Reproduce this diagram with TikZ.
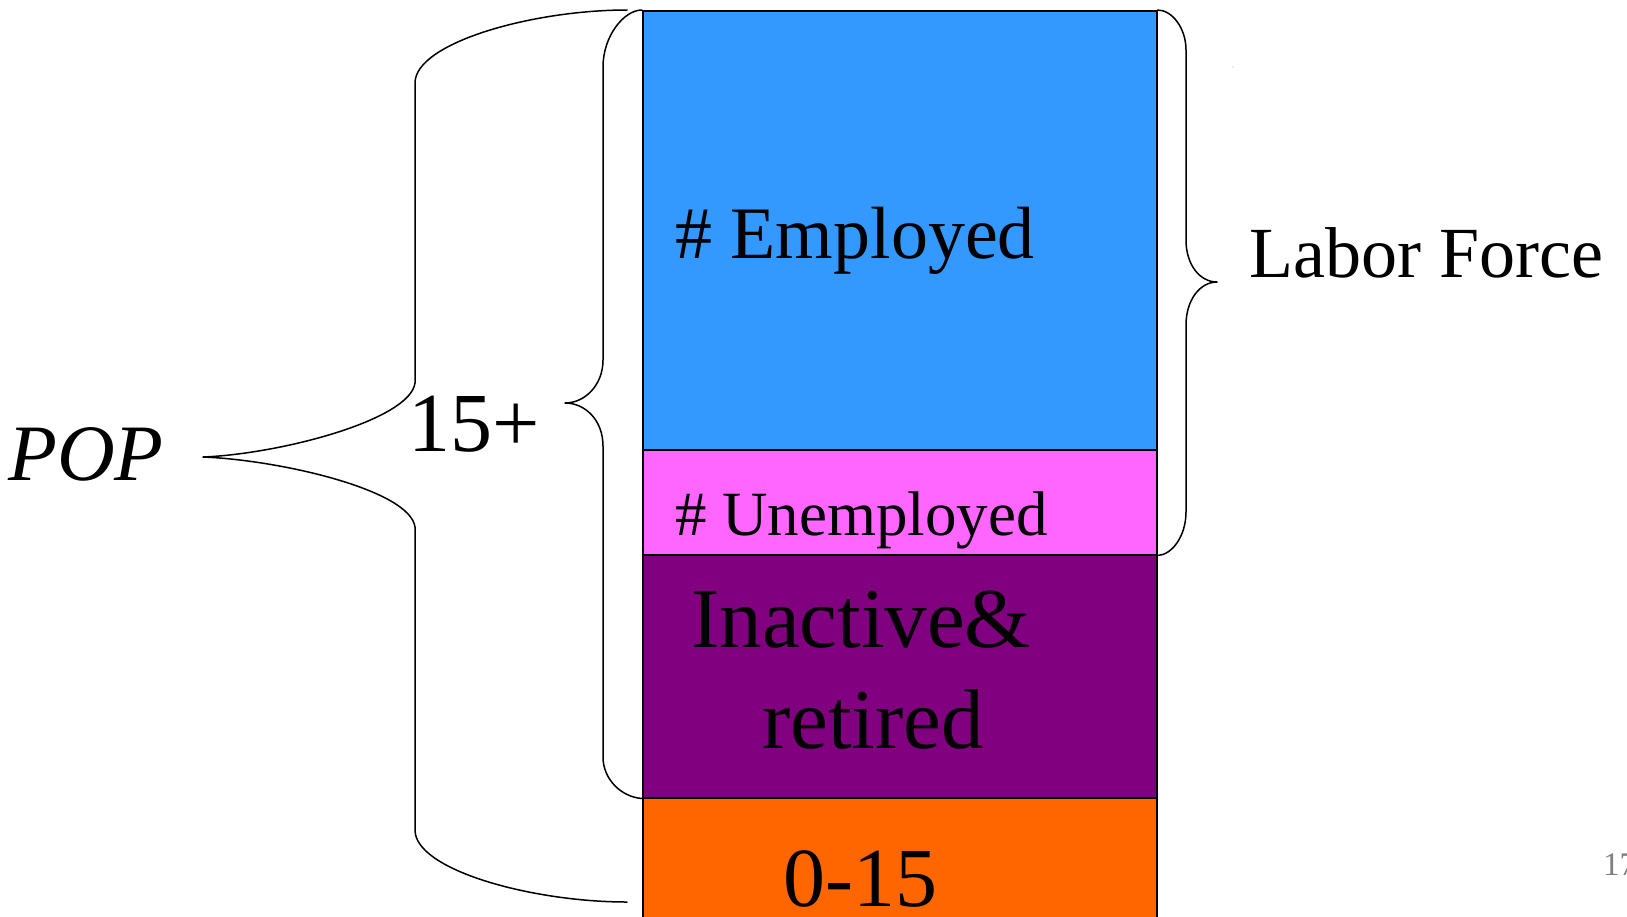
\documentclass[tikz,border=0pt]{standalone}
\usepackage{fontspec}
\setmainfont{Liberation Serif}
\definecolor{empblue}{HTML}{3399FF}
\definecolor{unpink}{HTML}{FF66FF}
\definecolor{inpurple}{HTML}{800080}
\definecolor{kidorange}{HTML}{FF6600}
\newcommand\fsz[1]{\fontsize{#1}{#1}\selectfont}
\tikzset{
  bar/.style={draw=black, line width=1.5pt, anchor=north west, inner sep=0pt, minimum width=514pt},
  lbl/.style={anchor=base west, inner sep=0pt, text=black},
  brace/.style={draw=black, line width=1.5pt, line cap=round, line join=round}
}
\begin{document}
\begin{tikzpicture}[x=1pt,y=-1pt]
\useasboundingbox (0,0) rectangle (1627,916);
% stacked bars
\node[bar, fill=empblue,   minimum height=439pt] (emp)   at (642,10)  {};
\node[bar, fill=unpink,    minimum height=105pt] (unemp) at (642,449) {};
\node[bar, fill=inpurple,  minimum height=243pt] (inact) at (642,554) {};
\node[bar, fill=kidorange, minimum height=140pt] (kids)  at (642,797) {};
% labels
\node[lbl, font=\fsz{74}] (templ) at (675,258) {\#~Employed};
\node[lbl, font=\fsz{63}] (tunemp) at (675,535) {\#~Unemployed};
\node[lbl, font=\fsz{85}] (tinact1) at (691,647) {Inactive\&};
\node[lbl, font=\fsz{85}] (tinact2) at (762,748) {retired};
\node[lbl, font=\fsz{84}] (tkids) at (783,906) {0-15};
\node[lbl, font=\fsz{84}] (tfifteen) at (408,451) {15+};
\node[lbl, font={\fsz{80}\itshape}] (tpop) at (8,480) {POP};
\node[lbl, font=\fsz{72}] (tlabor) at (1249,277) {Labor Force};
\node[lbl, font=\fsz{33}, text=gray] (tpage) at (1603,875) {17};
% coordinates for braces
\coordinate (popTop) at (627,10);
\coordinate (popTip) at (203,457);
\coordinate (popBot) at (627,902);
\coordinate (adTip) at (565,403);
\coordinate (lfTip) at (1217,282);
% POP brace
\draw[brace] (popTop) .. controls (532,10) and (415,43) .. (415,83)
  -- (415,383) .. controls (410,420) and (280,454) .. (popTip)
  .. controls (280,460) and (410,490) .. (415,527)
  -- (415,830) .. controls (415,870) and (532,902) .. (popBot);
% 15+ brace
\draw[brace] (emp.north west) .. controls (624,10) and (603,36) .. (603,67)
  -- (603,360) .. controls (603,385) and (585,403) .. (adTip)
  .. controls (585,403) and (603,420) .. (603,446)
  -- (603,757) .. controls (603,779) and (621,797) .. (inact.south west);
% Labor force brace
\draw[brace] (emp.north east) .. controls (1172,10) and (1186,28) .. (1186,50)
  -- (1186,240) .. controls (1186,265) and (1200,282) .. (lfTip)
  .. controls (1200,282) and (1186,300) .. (1186,325)
  -- (1186,512) .. controls (1186,536) and (1172,555) .. (unemp.south east);
% stray dot
\fill[gray!60] (1233,67) circle (0.7);
\end{tikzpicture}
\end{document}
